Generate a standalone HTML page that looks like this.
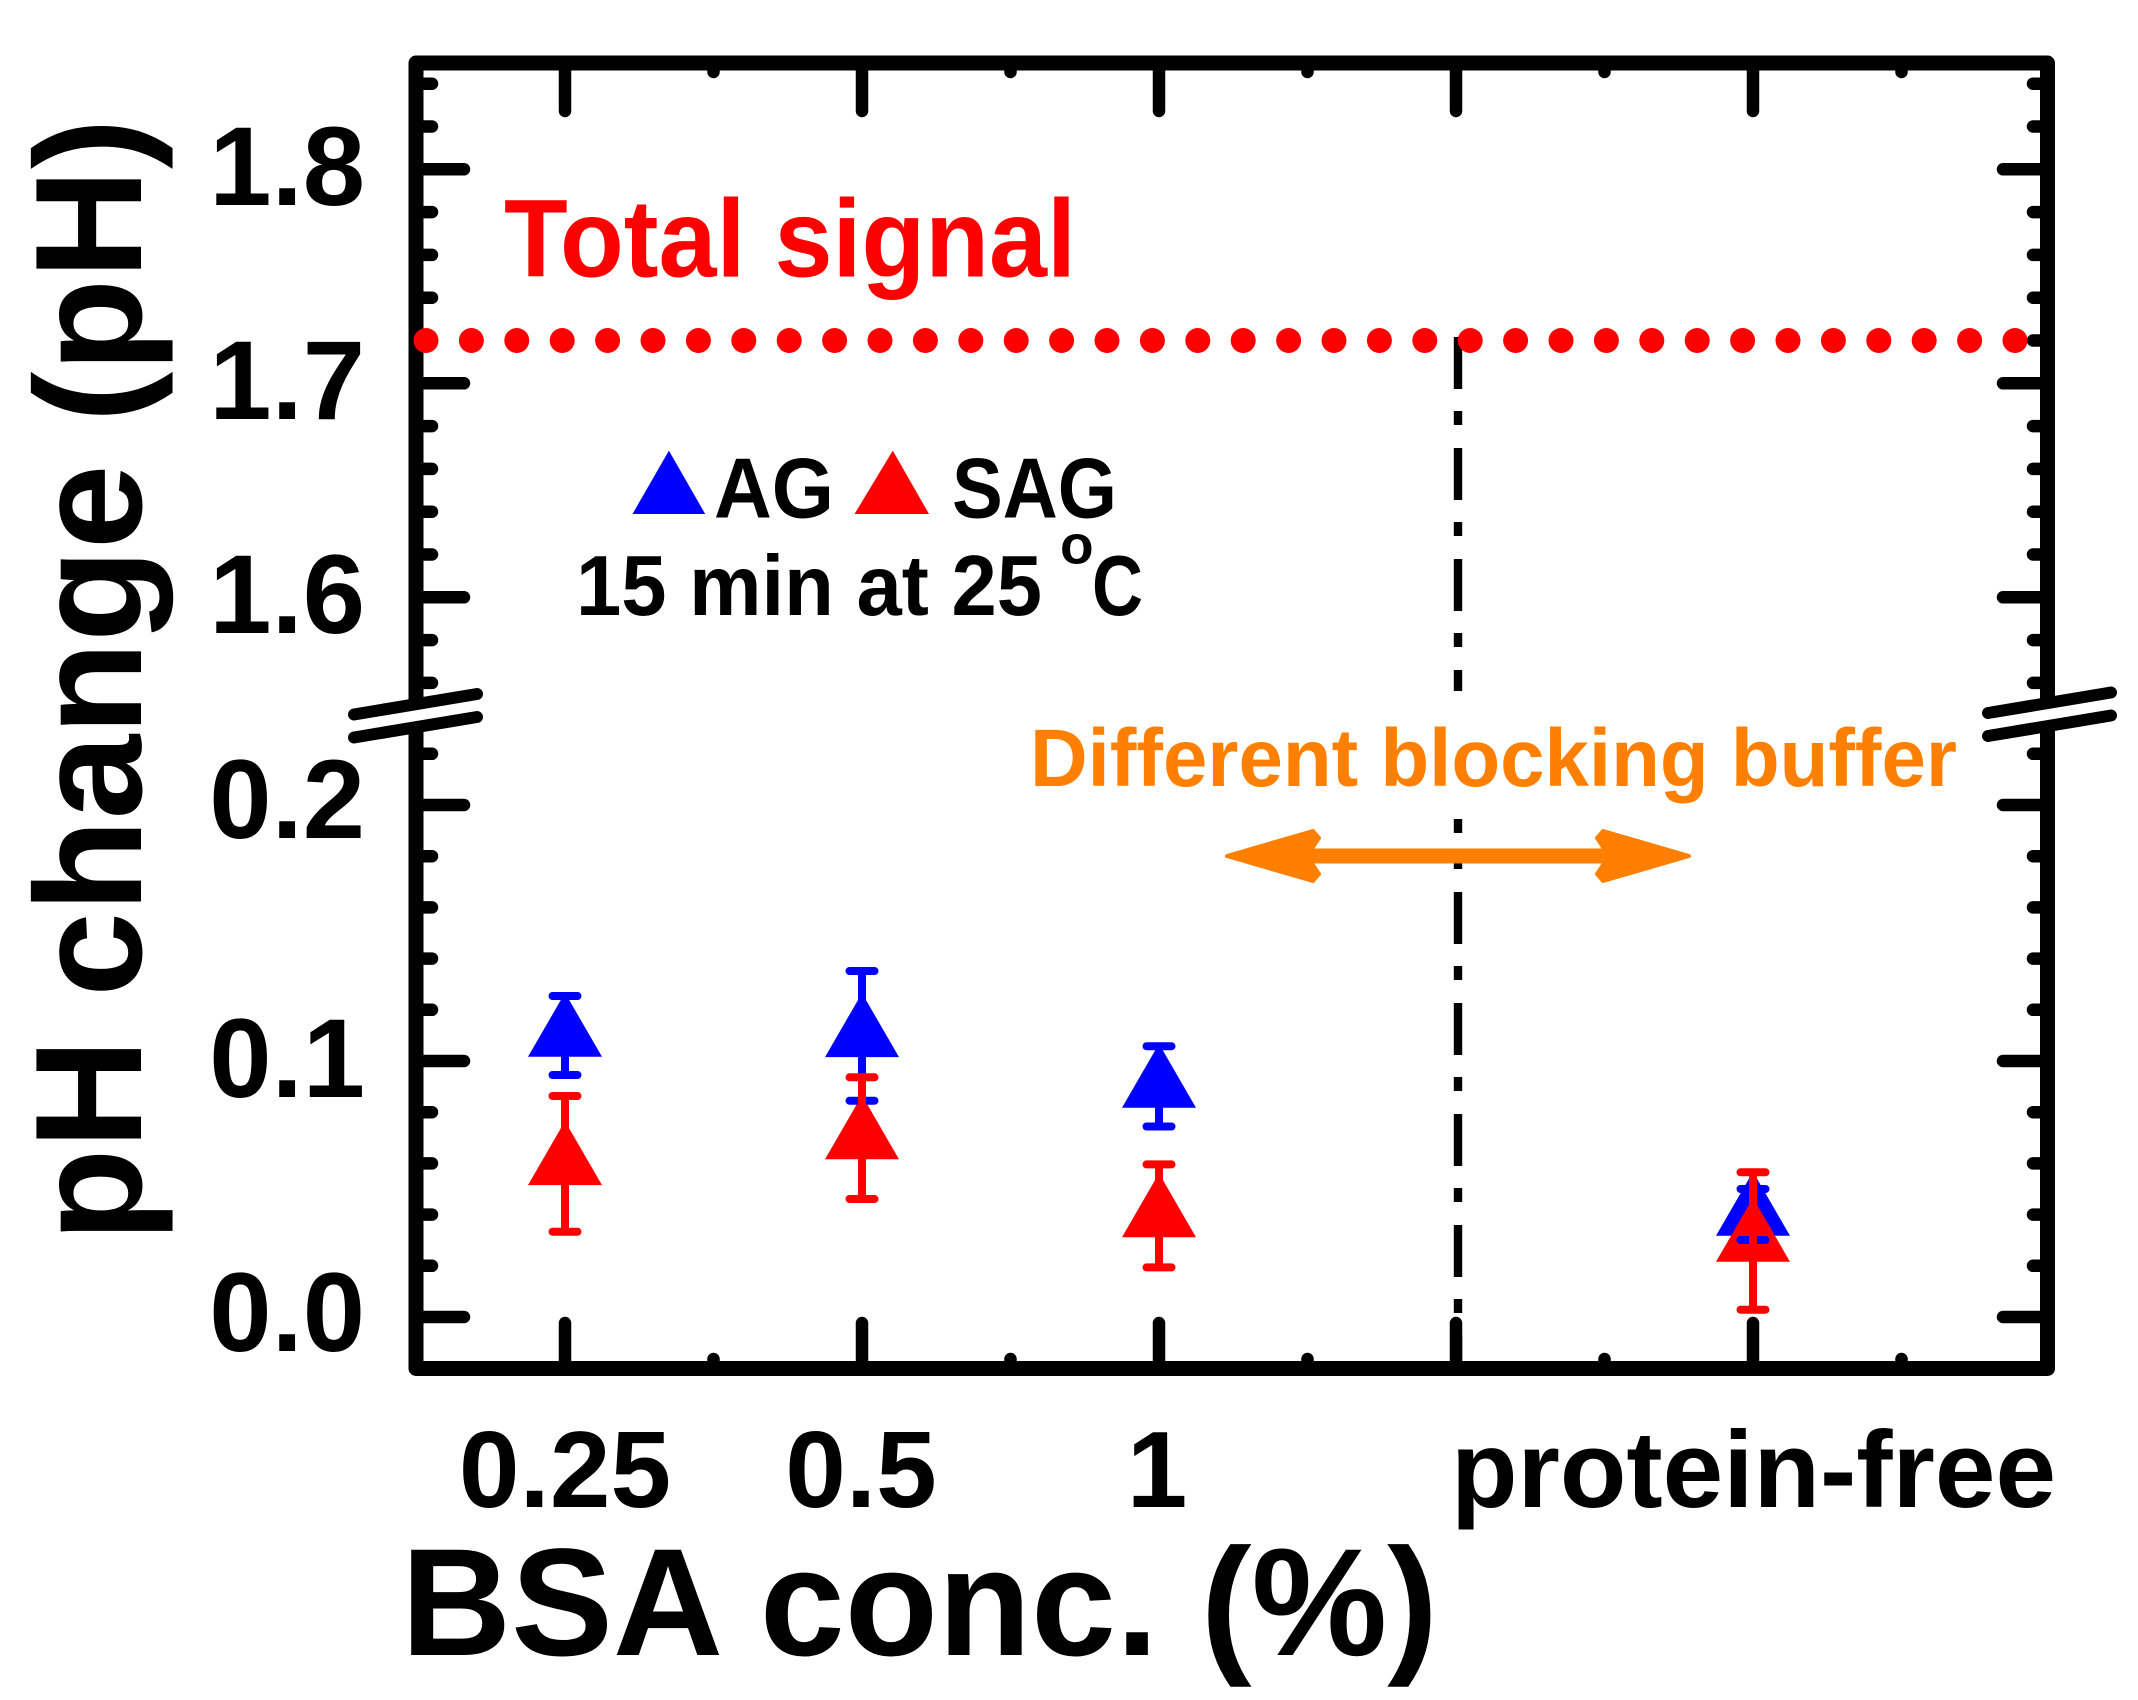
<!DOCTYPE html>
<html>
<head>
<meta charset="utf-8">
<style>
  html, body { margin: 0; padding: 0; background: #ffffff; }
  svg { display: block; }
  text { font-family: "Liberation Sans", Arial, sans-serif; font-weight: bold; }
</style>
</head>
<body>
<svg width="2138" height="1700" viewBox="0 0 2138 1700" xmlns="http://www.w3.org/2000/svg">
  <rect x="0" y="0" width="2138" height="1700" fill="#ffffff"/>

  <!-- dash-dot divider -->
  <line x1="1458" y1="337" x2="1458" y2="1362" stroke="#000" stroke-width="8.4" stroke-dasharray="52 22 14 23"/>

  <!-- white box behind "Different blocking buffer" -->
  <rect x="1020" y="691" width="950" height="128" fill="#ffffff"/>

  <!-- frame -->
  <rect x="416" y="63" width="1631.5" height="1305.5" fill="none" stroke="#000" stroke-width="15" stroke-linejoin="round"/>

  <!-- ticks -->
  <g stroke="#000" stroke-width="12.5" stroke-linecap="round" fill="none">
    <path d="M416 169.3H464 M416 383.3H464 M416 597.3H464 M416 805H464 M416 1061H464 M416 1317H464"/>
    <path d="M416 83.7H432 M416 126.5H432 M416 212.1H432 M416 254.9H432 M416 297.7H432 M416 340.5H432 M416 426.1H432 M416 468.9H432 M416 511.7H432 M416 554.5H432 M416 640.1H432 M416 682.9H432 M416 753.8H432 M416 856.2H432 M416 907.4H432 M416 958.6H432 M416 1009.8H432 M416 1112.2H432 M416 1163.4H432 M416 1214.6H432 M416 1265.8H432"/>
    <path d="M2047.5 169.3H2003 M2047.5 383.3H2003 M2047.5 597.3H2003 M2047.5 805H2003 M2047.5 1061H2003 M2047.5 1317H2003"/>
    <path d="M2047.5 83.7H2033 M2047.5 126.5H2033 M2047.5 212.1H2033 M2047.5 254.9H2033 M2047.5 297.7H2033 M2047.5 340.5H2033 M2047.5 426.1H2033 M2047.5 468.9H2033 M2047.5 511.7H2033 M2047.5 554.5H2033 M2047.5 640.1H2033 M2047.5 682.9H2033 M2047.5 753.8H2033 M2047.5 856.2H2033 M2047.5 907.4H2033 M2047.5 958.6H2033 M2047.5 1009.8H2033 M2047.5 1112.2H2033 M2047.5 1163.4H2033 M2047.5 1214.6H2033 M2047.5 1265.8H2033"/>
    <path d="M565 1368.5V1323 M862 1368.5V1323 M1159 1368.5V1323 M1456 1368.5V1323 M1753 1368.5V1323"/>
    <path d="M713.5 1368.5V1359 M1010.5 1368.5V1359 M1307.5 1368.5V1359 M1604.5 1368.5V1359 M1901.5 1368.5V1359"/>
    <path d="M565 63V111 M862 63V111 M1159 63V111 M1456 63V111 M1753 63V111"/>
    <path d="M713.5 63V72 M1010.5 63V72 M1307.5 63V72 M1604.5 63V72 M1901.5 63V72"/>
  </g>

  <!-- axis breaks -->
  <g stroke-linecap="round" fill="none">
    <line x1="350" y1="726.5" x2="481" y2="705" stroke="#fff" stroke-width="12"/>
    <line x1="354" y1="714.5" x2="477" y2="694" stroke="#000" stroke-width="12"/>
    <line x1="354" y1="737.5" x2="477" y2="717" stroke="#000" stroke-width="12"/>
    <line x1="1984" y1="725" x2="2115" y2="703.5" stroke="#fff" stroke-width="12"/>
    <line x1="1988" y1="713" x2="2111" y2="692.5" stroke="#000" stroke-width="12"/>
    <line x1="1988" y1="736" x2="2111" y2="715.5" stroke="#000" stroke-width="12"/>
  </g>

  <!-- red dotted total signal line -->
  <g fill="#ff0000">
    <circle cx="426" cy="340.5" r="12.5"/><circle cx="471.4" cy="340.5" r="12.5"/><circle cx="516.8" cy="340.5" r="12.5"/><circle cx="562.2" cy="340.5" r="12.5"/>
    <circle cx="607.6" cy="340.5" r="12.5"/><circle cx="653" cy="340.5" r="12.5"/><circle cx="698.4" cy="340.5" r="12.5"/><circle cx="743.8" cy="340.5" r="12.5"/>
    <circle cx="789.2" cy="340.5" r="12.5"/><circle cx="834.6" cy="340.5" r="12.5"/><circle cx="880" cy="340.5" r="12.5"/><circle cx="925.4" cy="340.5" r="12.5"/>
    <circle cx="970.8" cy="340.5" r="12.5"/><circle cx="1016.2" cy="340.5" r="12.5"/><circle cx="1061.6" cy="340.5" r="12.5"/><circle cx="1107" cy="340.5" r="12.5"/>
    <circle cx="1152.4" cy="340.5" r="12.5"/><circle cx="1197.8" cy="340.5" r="12.5"/><circle cx="1243.2" cy="340.5" r="12.5"/><circle cx="1288.6" cy="340.5" r="12.5"/>
    <circle cx="1334" cy="340.5" r="12.5"/><circle cx="1379.4" cy="340.5" r="12.5"/><circle cx="1424.8" cy="340.5" r="12.5"/><circle cx="1470.2" cy="340.5" r="12.5"/>
    <circle cx="1515.6" cy="340.5" r="12.5"/><circle cx="1561" cy="340.5" r="12.5"/><circle cx="1606.4" cy="340.5" r="12.5"/><circle cx="1651.8" cy="340.5" r="12.5"/>
    <circle cx="1697.2" cy="340.5" r="12.5"/><circle cx="1742.6" cy="340.5" r="12.5"/><circle cx="1788" cy="340.5" r="12.5"/><circle cx="1833.4" cy="340.5" r="12.5"/>
    <circle cx="1878.8" cy="340.5" r="12.5"/><circle cx="1924.2" cy="340.5" r="12.5"/><circle cx="1969.6" cy="340.5" r="12.5"/><circle cx="2015" cy="340.5" r="12.5"/>
  </g>

  <!-- orange double arrow -->
  <g fill="#ff8000" stroke="#ff8000" stroke-linejoin="round">
    <line x1="1300" y1="856" x2="1616" y2="856" stroke-width="15"/>
    <polygon points="1227,856 1313,831 1319,838 1307,856 1319,874 1313,881" stroke-width="4"/>
    <polygon points="1689,856 1603,831 1597,838 1609,856 1597,874 1603,881" stroke-width="4"/>
  </g>

  <!-- data markers -->
  <g fill="#0000ff">
    <polygon points="565,992.8 528,1056.8 602,1056.8"/>
    <polygon points="862,993.1 825,1057.1 899,1057.1"/>
    <polygon points="1159,1043.7 1122,1107.7 1196,1107.7"/>
    <polygon points="1753,1171.8 1716,1235.8 1790,1235.8"/>
  </g>
  <g fill="#ff0000">
    <polygon points="565,1121.1 528,1185.1 602,1185.1"/>
    <polygon points="862,1095.3 825,1159.3 899,1159.3"/>
    <polygon points="1159,1173.2 1122,1237.2 1196,1237.2"/>
    <polygon points="1753,1197.8 1716,1261.8 1790,1261.8"/>
  </g>
  <g stroke="#0000ff" stroke-width="8" stroke-linecap="round" fill="none">
    <path d="M565 996V1075 M552.5 996H577.5 M552.5 1075H577.5"/>
    <path d="M862 971V1100.7 M849.5 971H874.5 M849.5 1100.7H874.5"/>
    <path d="M1159 1046.2V1126.5 M1146.5 1046.2H1171.5 M1146.5 1126.5H1171.5"/>
    <path d="M1753 1189V1240 M1740.5 1189H1765.5 M1740.5 1240H1765.5"/>
  </g>
  <g stroke="#ff0000" stroke-width="8" stroke-linecap="round" fill="none">
    <path d="M565 1096V1231.7 M552.5 1096H577.5 M552.5 1231.7H577.5"/>
    <path d="M862 1077.3V1199 M849.5 1077.3H874.5 M849.5 1199H874.5"/>
    <path d="M1159 1164.4V1267.4 M1146.5 1164.4H1171.5 M1146.5 1267.4H1171.5"/>
    <path d="M1753 1172.3V1309.7 M1740.5 1172.3H1765.5 M1740.5 1309.7H1765.5"/>
  </g>

  <!-- legend -->
  <polygon points="668.9,450.6 632.5,514 705.2,514" fill="#0000ff"/>
  <polygon points="892.8,450.6 854.5,514 929,514" fill="#ff0000"/>
  <text x="714" y="517.6" font-size="85" fill="#000" textLength="120" lengthAdjust="spacingAndGlyphs">AG</text>
  <text x="952" y="517.6" font-size="85" fill="#000" textLength="165" lengthAdjust="spacingAndGlyphs">SAG</text>
  <text x="576" y="615.2" font-size="85" fill="#000" textLength="466" lengthAdjust="spacingAndGlyphs">15 min at 25</text>
  <text x="1060" y="563.5" font-size="55" fill="#000">o</text>
  <text x="1092" y="615.2" font-size="85" fill="#000" textLength="51" lengthAdjust="spacingAndGlyphs">C</text>

  <!-- annotations -->
  <text x="504" y="276.7" font-size="110" fill="#ff0000" textLength="572" lengthAdjust="spacingAndGlyphs">Total signal</text>
  <text x="1030" y="786" font-size="82" fill="#ff8000" textLength="927" lengthAdjust="spacingAndGlyphs">Different blocking buffer</text>

  <!-- y tick labels -->
  <g font-size="112" fill="#000" text-anchor="end">
    <text x="365" y="205">1.8</text>
    <text x="365" y="419">1.7</text>
    <text x="365" y="633">1.6</text>
    <text x="365" y="838">0.2</text>
    <text x="365" y="1097">0.1</text>
    <text x="365" y="1351">0.0</text>
  </g>

  <!-- x tick labels -->
  <g font-size="109" fill="#000" text-anchor="middle">
    <text x="565" y="1507">0.25</text>
    <text x="861" y="1507">0.5</text>
    <text x="1157" y="1507">1</text>
    <text x="1753.5" y="1507" textLength="605" lengthAdjust="spacingAndGlyphs">protein-free</text>
  </g>

  <!-- axis titles -->
  <text x="401" y="1655" font-size="153" fill="#000" textLength="1037" lengthAdjust="spacingAndGlyphs">BSA conc. (%)</text>
  <text transform="translate(141,680) rotate(-90)" x="0" y="0" font-size="152" fill="#000" text-anchor="middle">pH change (pH)</text>
</svg>
</body>
</html>
